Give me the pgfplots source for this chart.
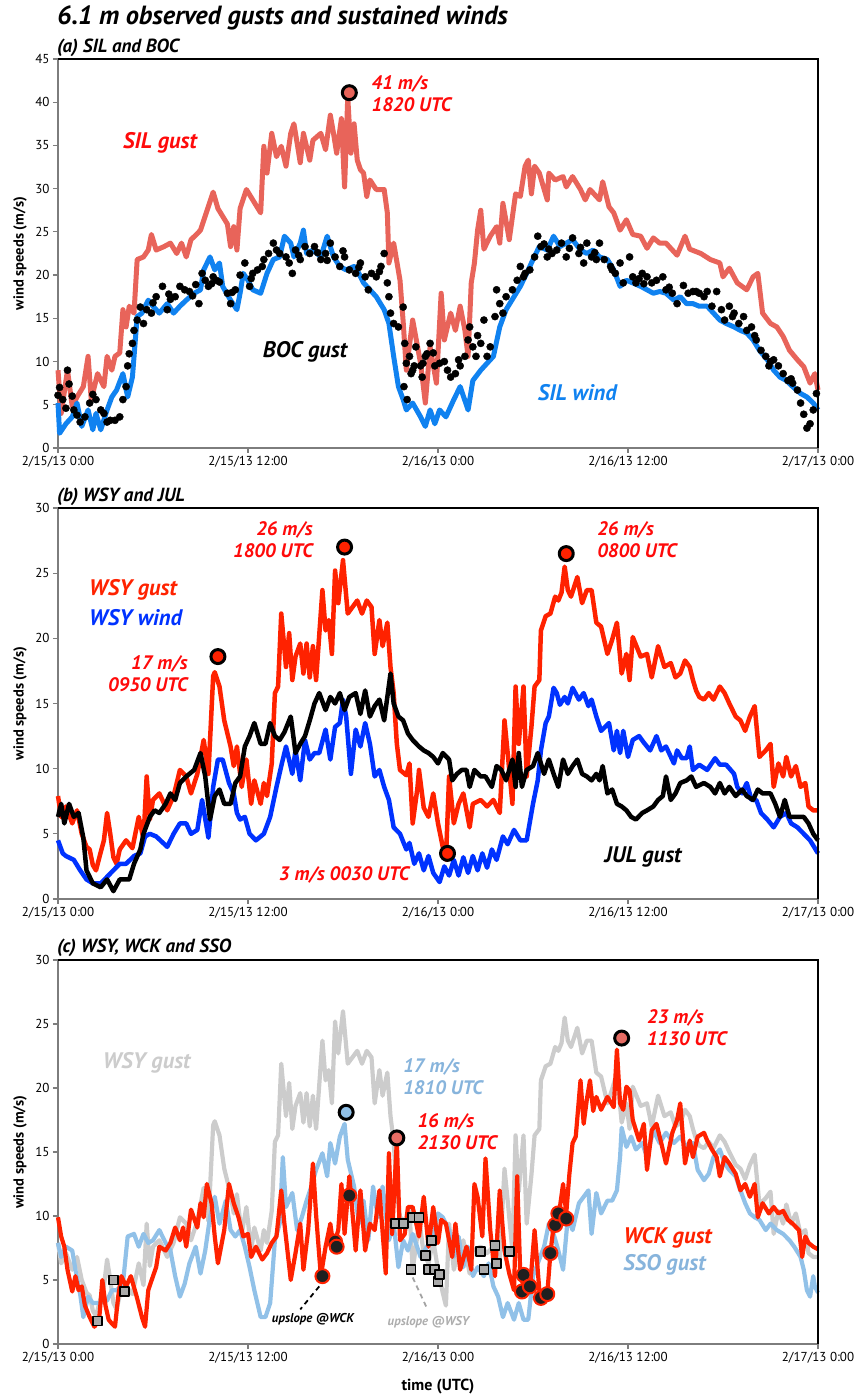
\documentclass[border=0pt]{standalone}
\usepackage{pgfplots}
\pgfplotsset{compat=1.18}
\usepackage{pgfplotstable}
\usepackage{fontspec}
\setmainfont{PT Sans}
\definecolor{silgust}{RGB}{232,100,90}
\definecolor{silwind}{RGB}{16,130,240}
\definecolor{wsyred}{RGB}{255,34,0}
\definecolor{annred}{RGB}{255,10,10}
\definecolor{wsyblue}{RGB}{0,50,255}
\definecolor{wsygray}{RGB}{204,204,204}
\definecolor{ssoblue}{RGB}{145,193,232}
\definecolor{ssotext}{RGB}{135,180,220}
\definecolor{axgray}{RGB}{125,125,125}
\definecolor{salfill}{RGB}{230,108,100}
\definecolor{sqfill}{RGB}{170,170,170}
\newcommand\fsTitle{\fontsize{26.3}{30}\selectfont\bfseries\itshape}
\newcommand\fsPanel{\fontsize{19}{22}\selectfont\bfseries\itshape}
\newcommand\fsSer{\fontsize{22.5}{26}\selectfont\bfseries\itshape}
\newcommand\fsAnn{\fontsize{19.5}{21.5}\selectfont\bfseries\itshape}
\newcommand\fsSmall{\fontsize{12.8}{15}\selectfont\bfseries\itshape}

\pgfplotstableread{
h v
0 7.9
0.2 6.3
0.5 7.1
0.9 5.8
1.2 6.8
1.5 5.0
1.8 4.0
2.0 3.8
2.2 2.6
2.4 2.2
2.7 3.6
2.9 4.5
3.1 6.6
3.3 5.0
3.5 3.2
3.7 2.7
3.9 3.8
4.3 4.5
4.7 3.9
5.1 6.3
5.4 4.6
5.6 9.4
5.8 6.1
6.0 7.6
6.4 8.1
6.9 6.8
7.3 7.9
7.7 9.9
8.1 9.4
8.4 8.1
8.8 9.6
9.2 12.2
9.5 9.6
9.8 17.1
9.9 17.4
10.2 16.3
10.5 13.7
10.9 11.7
11.1 10.2
11.3 11.7
11.6 8.6
11.9 10.7
12.2 7.3
12.4 9.1
12.8 7.3
13.0 8.9
13.2 7.9
13.5 10.4
13.7 15.8
13.9 16.3
14.1 21.9
14.4 17.8
14.6 20.4
14.8 16.8
15.0 18.6
15.3 19.6
15.5 17.3
15.7 19.6
15.9 17.0
16.1 19.4
16.3 16.8
16.7 23.7
16.9 20.6
17.1 21.4
17.3 18.8
17.5 25.2
17.7 22.7
18.0 26.0
18.3 21.9
18.6 22.4
18.9 22.9
19.2 21.9
19.5 22.9
19.8 22.4
20.0 18.8
20.3 21.4
20.5 19.4
20.8 21.2
21.0 17.8
21.2 15.8
21.4 11.9
21.6 9.9
22.0 9.5
22.2 10.4
22.4 5.8
22.7 8.5
22.8 9.9
23.1 7.0
23.4 6.3
23.7 8.1
24.0 5.8
24.3 4.0
24.5 3.0
24.7 9.4
25.0 5.8
25.3 7.3
25.6 8.1
26.0 5.5
26.2 7.3
26.7 7.6
27.1 7.1
27.5 7.6
27.9 6.6
28.2 13.7
28.4 11.2
28.7 7.3
28.9 16.3
29.1 11.9
29.4 16.3
29.6 9.4
29.9 13.2
30.1 16.3
30.4 16.8
30.5 20.6
30.8 21.7
31.1 21.9
31.4 23.2
31.6 22.9
31.8 23.5
32.0 25.5
32.2 23.7
32.4 23.2
32.8 24.7
33.1 22.7
33.4 23.7
33.7 23.7
34.0 21.2
34.3 20.9
34.7 18.8
35.0 19.9
35.3 21.2
35.6 17.3
35.9 18.8
36.1 16.8
36.3 20.1
36.8 18.6
37.2 18.8
37.5 17.0
37.9 19.4
38.3 17.8
38.7 18.1
39.0 17.0
39.3 17.3
39.6 18.3
39.9 17.8
40.1 16.8
40.3 16.0
40.5 15.5
40.8 15.3
41.1 15.8
41.4 15.3
41.8 16.3
42.1 15.8
42.4 15.0
42.8 14.0
43.1 13.7
43.4 12.9
43.7 14.0
44.0 14.8
44.3 10.9
44.7 11.4
45.0 11.9
45.2 8.6
45.5 10.4
45.8 9.4
46.0 10.9
46.3 9.4
46.6 10.2
46.9 8.6
47.2 8.9
47.4 7.1
47.7 6.8
48.0 6.8
}\wsygust

\pgfplotsset{
  panel/.style={
    scale only axis, width=760pt, anchor=south west,
    xmin=0, xmax=48, ymin=0, clip=false,
    axis lines*=left,
    axis line style={-, draw=axgray, line width=2.5pt},
    xtick={0,12,24,36,48},
    xticklabels={2/15/13 0:00, 2/15/13 12:00, 2/16/13 0:00, 2/16/13 12:00, 2/17/13 0:00},
    tick align=outside, major tick length=5pt,
    tick style={draw=axgray, line width=1.2pt},
    ticklabel style={font=\fontsize{13}{15}\selectfont},
    /pgf/number format/assume math mode=true,
    ylabel={wind speeds (m/s)},
    ylabel style={font=\fontsize{14.5}{17}\selectfont\bfseries, at={(axis description cs:-0.05,0.5)}, anchor=center},
    every axis plot/.append style={line join=round},
  }
}

\begin{document}
\begin{tikzpicture}
\path[use as bounding box] (0,0) rectangle (860pt,1397pt);

\node[anchor=west, inner sep=0pt, font=\fsTitle] at (57pt,1379pt) {6.1 m observed gusts and sustained winds};
\node[anchor=west, inner sep=0pt, font=\fsPanel] at (57pt,1349pt) {(a) SIL and BOC};
\node[anchor=west, inner sep=0pt, font=\fsPanel] at (57pt,900pt) {(b) WSY and JUL};
\node[anchor=west, inner sep=0pt, font=\fsPanel] at (57pt,449pt) {(c) WSY, WCK and SSO};

% ---------------- panel (a)
\begin{axis}[panel, name=pa, at={(58pt,949pt)}, height=389pt, ymax=45, ytick={0,5,...,45}]
\addplot[silgust, line width=5pt] coordinates {
(0,9.0)(0.2,4.0)(0.6,9.0)(0.9,4.8)(1.2,5.9)(1.6,7.1)(1.9,10.6)(2.1,5.6)(2.5,8.6)(2.9,7.1)(3.1,10.6)(3.4,9.0)(3.6,10.6)(3.9,11.0)(4.1,16.0)(4.3,14.0)(4.5,16.4)(4.8,15.6)(5.0,21.8)(5.4,22.1)(5.7,22.9)(5.9,24.7)(6.2,22.9)(6.7,23.3)(7.1,23.7)(7.5,22.5)(7.8,23.7)(8.1,22.1)(8.4,24.1)(8.8,24.8)(9.0,25.2)(9.2,26.3)(9.8,29.6)(10.1,27.7)(10.7,25.9)(10.9,23.3)(11.1,25.6)(11.3,22.9)(11.5,27.7)(11.9,29.9)(12.3,28.7)(12.8,27.2)(13.0,34.9)(13.2,31.8)(13.5,36.4)(13.8,33.7)(14.1,34.9)(14.4,32.6)(14.7,36.4)(14.9,37.5)(15.1,35.3)(15.3,33.0)(15.5,36.4)(15.9,33.3)(16.1,35.6)(16.6,36.4)(16.9,34.5)(17.2,38.5)(17.4,36.4)(17.6,34.1)(17.9,38.1)(18.1,30.2)(18.3,40.6)(18.5,34.1)(18.7,37.5)(18.9,33.3)(19.1,32.2)(19.3,31.8)(19.5,29.1)(19.7,31.0)(20.1,29.9)(20.6,29.9)(20.8,27.2)(20.9,21.4)(21.2,23.7)(21.6,19.4)(21.8,14.6)(22.0,9.0)(22.4,14.8)(22.9,9.8)(23.2,5.2)(23.5,11.7)(23.9,7.5)(24.2,17.9)(24.4,12.5)(24.8,15.6)(25.1,13.6)(25.4,16.4)(25.7,13.6)(25.9,10.6)(26.1,19.1)(26.3,21.4)(26.5,25.2)(26.7,27.5)(26.9,23.0)(27.3,24.5)(27.7,25.6)(27.9,23.7)(28.1,28.3)(28.5,24.1)(28.9,29.4)(29.2,29.1)(29.5,32.6)(29.7,33.3)(29.9,29.4)(30.1,32.6)(30.4,31.8)(30.9,28.7)(31.0,31.8)(31.4,31.0)(31.9,31.4)(32.1,30.2)(32.5,31.4)(33.0,29.9)(33.3,28.7)(33.6,29.9)(34.2,28.7)(34.4,30.8)(34.8,27.9)(35.1,27.2)(35.5,25.2)(35.9,26.4)(36.3,24.7)(36.8,24.5)(37.2,23.1)(37.6,24.3)(38.0,23.7)(38.4,23.7)(39.1,22.3)(39.6,24.5)(39.9,23.0)(40.6,22.5)(41.2,21.8)(41.8,21.4)(42.0,19.8)(42.4,20.8)(42.9,19.1)(43.5,18.3)(43.9,19.8)(44.2,20.2)(44.5,15.6)(45.0,14.4)(45.4,14.0)(45.8,12.9)(46.2,11.3)(46.7,10.2)(47.1,9.4)(47.5,7.5)(47.8,8.6)(48.0,6.7)
};
\addplot[silwind, line width=5pt] coordinates {
(0,5.2)(0.1,1.7)(0.5,2.8)(0.9,3.6)(1.2,5.2)(1.5,2.5)(1.9,4.4)(2.2,2.1)(2.4,4.0)(2.7,2.1)(3.1,4.4)(3.4,5.9)(3.7,6.7)(4.1,8.6)(4.4,5.9)(4.7,8.2)(5.0,15.2)(5.3,15.6)(5.7,17.1)(6.0,16.4)(6.4,15.6)(6.9,16.7)(7.3,15.6)(7.7,16.4)(8.1,17.1)(8.6,17.9)(9.0,18.3)(9.2,20.6)(9.6,22.1)(9.9,20.6)(10.2,21.4)(10.4,18.7)(10.9,17.1)(11.3,16.0)(11.5,17.9)(11.7,20.2)(12.0,19.4)(12.3,18.3)(12.8,17.9)(13.2,20.2)(13.6,21.8)(14.0,22.1)(14.3,24.5)(14.7,23.7)(14.9,22.1)(15.3,23.7)(15.5,25.2)(15.7,22.5)(16.1,22.9)(16.6,22.1)(17.0,24.5)(17.4,22.1)(17.8,21.0)(18.2,20.6)(18.7,21.0)(19.0,20.2)(19.3,19.1)(19.7,18.3)(20.1,17.5)(20.6,16.0)(20.9,14.4)(21.2,10.6)(21.5,7.1)(21.8,5.6)(22.0,4.4)(22.4,5.2)(22.9,3.6)(23.2,2.5)(23.5,4.4)(23.8,2.8)(24.1,4.4)(24.5,3.6)(25.0,5.6)(25.4,7.1)(25.9,4.4)(26.2,7.8)(26.7,9.0)(27.1,9.8)(27.5,10.6)(27.9,14.0)(28.3,16.0)(28.8,17.5)(29.2,18.7)(29.6,20.2)(30.0,21.8)(30.4,23.3)(30.9,22.9)(31.3,24.5)(31.7,23.3)(32.1,23.7)(32.5,24.1)(33.0,22.9)(33.4,22.5)(33.8,22.9)(34.2,22.1)(34.7,21.8)(35.1,20.6)(35.5,18.7)(35.9,19.4)(36.3,19.1)(36.8,18.7)(37.2,18.3)(37.6,17.9)(38.0,18.1)(38.4,17.9)(38.9,17.1)(39.3,17.5)(39.7,16.7)(40.1,16.7)(40.5,16.4)(41.0,16.4)(41.4,15.6)(41.8,14.8)(42.2,14.4)(42.7,14.0)(43.1,13.6)(43.5,13.3)(43.9,12.5)(44.3,11.3)(44.8,10.2)(45.2,9.0)(45.6,8.2)(46.0,7.8)(46.4,7.1)(46.9,6.3)(47.3,5.9)(47.7,5.2)(48.0,4.4)
};
\addplot[only marks, mark=*, mark size=3.6pt, black] coordinates {
(0.0,6.1)(0.1,7.0)(0.3,5.6)(0.5,4.6)(0.6,9.0)(0.7,7.4)(0.9,6.0)(1.0,4.4)(1.2,3.8)(1.4,3.0)(1.7,3.6)(2.0,5.2)(2.2,6.2)(2.4,5.6)(2.7,4.4)(2.9,4.0)(3.1,3.0)(3.3,3.2)(3.6,3.2)(3.9,3.6)(4.1,5.6)(4.3,7.1)(4.4,9.5)(4.5,10.9)(4.7,12.1)(4.8,13.6)(5.0,14.8)(5.2,16.3)(5.4,14.4)(5.6,16.0)(5.9,15.6)(6.0,16.8)(6.2,17.5)(6.6,18.7)(6.9,16.0)(7.0,17.8)(7.1,17.2)(7.4,17.5)(7.7,18.7)(8.0,18.3)(8.3,18.1)(8.5,17.6)(8.7,18.9)(8.9,16.7)(9.1,20.2)(9.3,19.4)(9.5,18.7)(9.7,19.0)(9.8,19.8)(10.0,19.4)(10.2,19.2)(10.7,17.9)(10.9,16.7)(11.0,18.0)(11.2,18.3)(11.5,20.0)(11.8,21.4)(12.1,18.7)(12.2,19.6)(12.3,20.2)(12.6,20.6)(12.9,21.0)(13.0,21.8)(13.3,22.5)(13.6,23.7)(13.8,22.9)(14.0,22.5)(14.4,22.1)(14.6,21.4)(14.8,20.2)(15.0,22.9)(15.2,22.3)(15.3,21.8)(15.6,23.3)(15.9,22.5)(16.2,23.3)(16.4,22.6)(16.6,21.8)(16.9,22.5)(17.0,21.7)(17.2,23.7)(17.5,22.1)(17.8,21.0)(18.0,22.8)(18.1,22.1)(18.4,20.6)(18.8,20.2)(19.0,20.9)(19.1,21.4)(19.4,19.8)(19.6,18.3)(19.8,20.2)(20.1,19.8)(20.3,20.4)(20.4,21.0)(20.6,22.5)(20.8,19.1)(20.9,17.5)(21.0,15.6)(21.2,14.4)(21.5,14.0)(21.8,16.3)(21.85,7.1)(21.9,12.1)(22.0,9.8)(22.05,5.6)(22.2,10.6)(22.3,8.6)(22.4,9.0)(22.5,9.5)(22.6,11.7)(22.9,9.5)(23.0,8.2)(23.05,9.8)(23.2,10.6)(23.3,10.9)(23.5,12.1)(23.7,11.0)(23.8,9.5)(24.1,9.8)(24.4,10.0)(24.6,9.0)(24.8,8.2)(25.1,8.6)(25.3,10.2)(25.4,9.5)(25.7,10.6)(25.9,12.5)(26.0,14.0)(26.2,11.7)(26.4,10.6)(26.5,13.0)(26.7,12.1)(26.9,14.8)(27.1,10.6)(27.3,11.7)(27.6,15.2)(27.7,18.3)(27.9,16.7)(28.1,15.6)(28.3,17.5)(28.7,18.3)(29.0,19.4)(29.2,21.0)(29.4,19.8)(29.5,20.2)(29.8,20.6)(30.1,22.1)(30.3,24.5)(30.5,23.3)(30.7,23.6)(30.9,22.1)(31.0,23.0)(31.2,22.5)(31.5,22.9)(31.8,23.7)(32.1,22.1)(32.3,23.1)(32.5,24.3)(32.9,22.5)(33.0,23.2)(33.2,21.4)(33.4,23.7)(33.7,22.1)(33.9,22.6)(34.0,21.8)(34.2,23.7)(34.5,21.8)(34.9,21.0)(35.0,20.6)(35.2,20.2)(35.5,21.4)(35.7,19.1)(36.1,22.1)(36.3,19.8)(36.5,19.1)(36.7,19.6)(36.9,20.2)(37.0,19.0)(37.2,19.8)(37.5,19.1)(37.8,19.4)(38.2,19.8)(38.4,18.3)(38.6,18.6)(38.8,17.9)(39.1,16.7)(39.5,18.8)(39.8,17.9)(40.1,18.1)(40.3,18.1)(40.5,17.9)(40.8,17.5)(41.0,18.1)(41.3,16.4)(41.6,18.1)(41.9,16.0)(42.1,14.8)(42.4,16.4)(42.6,15.2)(42.7,15.6)(43.0,14.4)(43.3,15.2)(43.5,13.6)(43.8,14.0)(44.0,13.0)(44.1,12.5)(44.4,11.3)(44.7,10.6)(44.9,9.5)(45.0,10.0)(45.2,10.2)(45.5,9.5)(45.8,8.6)(46.1,7.8)(46.3,8.0)(46.4,7.5)(46.7,6.7)(46.9,5.2)(47.1,3.9)(47.3,2.3)(47.5,2.8)(47.7,4.4)(47.9,6.3)
};
\addplot[only marks, mark=*, mark size=7pt, mark options={fill=silgust, draw=black, line width=3pt}] coordinates {(18.4,41.1)};
\node[font=\fsSer, text=annred, inner sep=0pt] at (axis cs:6.44,35.3) {SIL gust};
\node[font=\fsSer, text=black, inner sep=0pt] at (axis cs:15.6,11.1) {BOC gust};
\node[font=\fsSer, text=silwind, inner sep=0pt] at (axis cs:32.8,6.4) {SIL wind};
\node[font=\fsAnn, text=annred, inner sep=0pt, anchor=west, align=left] at (axis cs:19.8,41.0) {41 m/s\\1820 UTC};
\end{axis}
\draw[black, line width=2.5pt] (pa.north west) -- (pa.north east) -- (pa.south east);

% ---------------- panel (b)
\begin{axis}[panel, name=pb, at={(58pt,498pt)}, height=391pt, ymax=30, ytick={0,5,...,30}]
\addplot[wsyred, line width=4.5pt] table[x=h, y=v] {\wsygust};
\addplot[wsyblue, line width=4.5pt] coordinates {
(0,4.5)(0.3,3.5)(0.5,3.3)(1.0,3.0)(1.4,2.2)(1.8,1.5)(2.2,1.2)(2.7,1.2)(3.1,1.7)(3.5,2.2)(3.9,2.7)(4.3,2.7)(4.8,3.3)(5.2,3.5)(5.5,4.8)(5.8,5.0)(6.2,4.8)(6.9,4.0)(7.3,5.0)(7.7,5.8)(8.1,5.8)(8.4,5.0)(8.8,5.3)(9.1,7.6)(9.5,4.7)(9.8,8.6)(10.1,10.7)(10.4,10.7)(10.8,8.9)(11.1,8.1)(11.3,6.6)(11.5,6.1)(11.8,6.3)(12.1,5.0)(12.5,4.5)(13.0,5.0)(13.4,6.3)(13.8,8.6)(14.1,10.2)(14.4,11.7)(14.8,9.6)(15.0,11.4)(15.3,9.1)(15.6,12.2)(15.9,10.7)(16.2,11.2)(16.5,11.2)(16.9,13.0)(17.2,10.7)(17.5,13.2)(17.8,13.5)(18.0,15.3)(18.2,14.0)(18.5,9.6)(18.8,13.0)(19.1,11.7)(19.4,13.5)(19.7,11.9)(20.0,9.4)(20.3,9.9)(20.6,8.6)(20.9,7.6)(21.2,5.5)(21.6,5.0)(22.0,3.8)(22.2,4.3)(22.5,2.7)(22.8,3.5)(23.1,2.2)(23.4,3.3)(23.7,2.0)(24.1,1.3)(24.4,2.5)(24.7,1.8)(25.0,3.0)(25.3,1.8)(25.6,3.2)(25.9,2.0)(26.2,3.3)(26.5,2.2)(26.8,3.5)(27.1,2.4)(27.4,3.8)(27.7,3.0)(28.1,4.8)(28.4,4.2)(28.8,5.3)(29.2,4.5)(29.6,4.5)(30.0,7.3)(30.3,9.1)(30.5,11.4)(30.8,13.5)(31.0,14.0)(31.3,16.2)(31.5,15.8)(31.7,14.9)(32.0,15.5)(32.2,15.0)(32.5,16.2)(32.9,15.3)(33.2,15.8)(33.5,14.8)(33.7,15.3)(34.0,14.0)(34.3,12.9)(34.8,13.5)(35.1,11.4)(35.3,12.9)(35.5,11.2)(35.7,12.9)(36.0,10.9)(36.3,12.2)(36.7,12.5)(37.0,12.0)(37.4,11.4)(37.8,12.5)(38.1,11.4)(38.4,11.7)(38.9,10.4)(39.1,11.4)(39.4,10.8)(39.7,10.8)(39.9,11.7)(40.1,9.9)(40.5,10.3)(41.0,9.9)(41.5,10.8)(41.8,10.3)(42.2,10.3)(42.7,9.6)(42.9,8.6)(43.2,8.1)(43.5,8.9)(43.8,7.6)(44.1,7.6)(44.4,6.6)(44.8,6.1)(45.2,5.5)(45.6,6.3)(46.0,6.6)(46.3,5.8)(46.7,5.5)(47.1,5.0)(47.5,4.5)(48.0,3.5)
};
\addplot[black, line width=4.5pt] coordinates {
(0,6.3)(0.2,7.3)(0.4,5.8)(0.7,7.3)(1.0,6.3)(1.3,6.6)(1.6,4.7)(1.8,2.2)(2.2,1.2)(2.7,0.9)(3.1,1.5)(3.5,0.6)(3.9,1.5)(4.5,1.5)(4.8,2.7)(5.2,3.8)(5.4,5.0)(5.8,6.3)(6.1,6.8)(6.4,6.6)(6.8,7.3)(7.1,8.1)(7.4,7.6)(7.7,8.9)(8.1,9.4)(8.6,9.9)(9.0,11.2)(9.3,9.4)(9.6,6.1)(9.9,7.9)(10.2,8.4)(10.5,7.3)(10.9,7.3)(11.2,8.9)(11.5,9.4)(11.8,11.7)(12.1,12.5)(12.4,13.5)(12.8,11.9)(13.1,11.9)(13.4,13.5)(13.7,12.5)(14.0,12.2)(14.3,12.8)(14.7,14.0)(15.0,11.2)(15.3,11.9)(15.6,12.5)(15.9,13.7)(16.2,15.0)(16.5,15.8)(16.9,14.5)(17.2,15.5)(17.5,15.0)(17.8,15.8)(18.1,14.5)(18.4,15.5)(18.8,15.8)(19.1,14.2)(19.4,16.0)(19.7,14.0)(20.0,14.8)(20.3,15.3)(20.6,13.7)(21.0,17.3)(21.2,15.0)(21.5,14.0)(21.8,13.7)(22.1,12.7)(22.4,12.2)(22.8,11.7)(23.1,11.4)(23.4,11.2)(23.7,10.9)(24.0,10.4)(24.3,11.2)(24.7,10.7)(24.9,9.1)(25.2,9.6)(25.5,9.9)(25.8,9.9)(26.0,8.6)(26.3,9.9)(26.7,9.4)(27.0,9.4)(27.4,8.6)(27.7,10.2)(28.0,9.9)(28.3,9.1)(28.7,10.7)(28.9,8.6)(29.1,11.2)(29.3,8.6)(29.6,9.9)(30.0,10.2)(30.3,11.2)(30.7,9.6)(31.0,10.7)(31.3,9.6)(31.6,8.6)(31.9,10.7)(32.2,9.6)(32.5,10.2)(32.8,10.7)(33.1,9.6)(33.4,9.4)(33.7,9.1)(34.0,9.6)(34.2,9.1)(34.4,10.2)(34.7,8.1)(35.0,8.4)(35.3,7.3)(35.6,7.1)(35.9,6.8)(36.2,6.3)(36.5,6.1)(36.9,6.6)(37.2,6.8)(37.6,7.1)(37.9,7.6)(38.2,7.9)(38.4,9.4)(38.7,7.6)(39.0,8.1)(39.3,8.9)(39.7,9.1)(40.0,9.4)(40.3,8.6)(40.8,8.9)(41.2,8.6)(41.5,8.1)(41.8,8.9)(42.1,8.1)(42.4,8.6)(42.8,7.9)(43.2,8.4)(43.5,7.9)(43.9,7.6)(44.2,8.4)(44.5,8.1)(45.0,8.1)(45.3,7.3)(45.6,6.3)(45.9,7.6)(46.2,6.3)(46.7,6.3)(47.1,6.3)(47.4,5.8)(47.7,5.0)(48.0,4.5)
};
\addplot[only marks, mark=*, mark size=7pt, mark options={fill=wsyred, draw=black, line width=3pt}] coordinates {(10.1,18.6)(18.1,27.0)(32.1,26.5)(24.6,3.5)};
\node[font=\fsSer, text=wsyred, inner sep=0pt, anchor=west] at (axis cs:1.96,23.7) {WSY gust};
\node[font=\fsSer, text=wsyblue, inner sep=0pt, anchor=west] at (axis cs:1.96,21.6) {WSY wind};
\node[font=\fsSer, text=black, inner sep=0pt] at (axis cs:36.95,3.2) {JUL gust};
\node[font=\fsAnn, text=annred, inner sep=0pt, anchor=east, align=right] at (axis cs:8.2,17.3) {17 m/s\\0950 UTC};
\node[font=\fsAnn, text=annred, inner sep=0pt, anchor=east, align=right] at (axis cs:16.1,27.55) {26 m/s\\1800 UTC};
\node[font=\fsAnn, text=annred, inner sep=0pt, anchor=west, align=left] at (axis cs:34.05,27.55) {26 m/s\\0800 UTC};
\node[font=\fsAnn, text=annred, inner sep=0pt, anchor=east] at (axis cs:22.2,1.84) {3 m/s 0030 UTC};
\end{axis}
\draw[black, line width=2.5pt] (pb.north west) -- (pb.north east) -- (pb.south east);

% ---------------- panel (c)
\begin{axis}[panel, name=pc, at={(58pt,53pt)}, height=384pt, ymax=30, ytick={0,5,...,30},
  xlabel={time (UTC)}, xlabel style={font=\fontsize{16}{19}\selectfont\bfseries, at={(axis description cs:0.5,-0.112)}, anchor=center}]
\addplot[wsygray, line width=4.2pt] table[x=h, y=v] {\wsygust};
\addplot[ssoblue, line width=4.2pt] coordinates {
(0,7.9)(0.2,6.8)(0.5,7.6)(0.9,7.3)(1.1,5.8)(1.4,3.9)(1.6,2.1)(1.9,3.7)(2.2,3.2)(2.6,3.2)(3.1,3.4)(3.4,4.2)(3.7,4.2)(4.1,4.7)(4.4,8.4)(4.8,8.6)(5.1,7.6)(5.4,8.6)(5.7,7.9)(6.0,8.1)(6.4,8.9)(6.8,7.9)(7.1,7.3)(7.4,5.3)(7.7,3.7)(8.0,4.7)(8.3,6.3)(8.7,7.6)(9.0,5.5)(9.3,7.3)(9.6,9.9)(9.9,11.5)(10.2,9.4)(10.6,11.2)(10.9,8.9)(11.2,8.4)(11.5,8.9)(11.8,7.6)(12.1,6.0)(12.4,4.2)(12.8,2.1)(13.1,2.1)(13.4,3.2)(13.7,8.1)(14.0,9.4)(14.2,14.6)(14.4,10.7)(14.8,11.8)(15.1,8.9)(15.4,9.9)(15.7,11.2)(16.0,12.3)(16.3,13.6)(16.7,14.9)(17.0,13.1)(17.2,15.7)(17.5,14.1)(17.8,16.2)(18.1,17.2)(18.3,14.4)(18.7,12.3)(19.0,9.4)(19.3,11.2)(19.6,8.1)(19.9,12.3)(20.2,9.9)(20.5,12.3)(20.9,8.1)(21.2,9.4)(21.5,6.0)(21.8,8.1)(22.1,7.3)(22.4,8.6)(22.9,6.8)(23.3,7.6)(23.7,8.4)(24.0,10.2)(24.3,9.9)(24.7,8.9)(25.0,6.8)(25.3,8.4)(25.6,6.0)(25.9,7.6)(26.2,5.3)(26.5,6.0)(26.9,5.3)(27.2,6.3)(27.5,4.5)(27.8,3.7)(28.1,2.1)(28.4,3.2)(28.8,1.9)(29.1,3.2)(29.4,1.9)(29.7,1.9)(30.0,5.3)(30.3,6.3)(30.7,7.6)(31.0,9.4)(31.3,8.6)(31.6,7.3)(31.9,5.8)(32.2,9.9)(32.5,8.9)(32.9,11.0)(33.2,11.5)(33.5,12.0)(33.7,8.6)(34.0,11.8)(34.3,10.2)(34.7,11.2)(35.0,11.2)(35.3,12.0)(35.5,14.6)(35.6,16.9)(35.9,15.4)(36.2,16.2)(36.5,15.2)(36.9,15.7)(37.2,14.6)(37.6,16.7)(38.0,15.7)(38.4,16.5)(38.9,15.7)(39.3,16.2)(39.7,15.4)(40.1,15.7)(40.4,13.6)(40.8,12.8)(41.1,13.3)(41.4,14.6)(41.8,15.2)(42.1,14.1)(42.4,13.6)(42.8,13.1)(43.1,12.0)(43.4,11.0)(43.7,10.2)(44.0,9.9)(44.3,9.7)(44.7,8.9)(45.0,9.4)(45.4,8.9)(45.8,8.6)(46.2,8.1)(46.5,7.6)(46.9,6.8)(47.1,5.8)(47.3,4.2)(47.5,3.7)(47.7,5.3)(47.8,4.5)(48.0,4.0)
};
\addplot[wsyred, line width=4.2pt] coordinates {
(0,9.9)(0.2,8.4)(0.4,7.6)(0.6,5.8)(0.9,4.1)(1.1,5.3)(1.3,4.2)(1.5,4.5)(1.7,3.0)(2.0,2.1)(2.3,1.35)(2.6,1.9)(2.8,5.0)(3.0,3.0)(3.2,1.9)(3.4,1.6)(3.6,1.35)(3.8,3.7)(4.0,5.3)(4.3,4.5)(4.6,5.3)(4.97,3.7)(5.3,2.1)(5.5,1.35)(5.7,4.2)(6.0,5.3)(6.2,6.0)(6.4,7.6)(6.8,7.3)(7.1,7.9)(7.4,9.1)(7.7,8.1)(7.9,9.1)(8.1,7.6)(8.4,10.5)(8.8,9.1)(9.0,11.0)(9.2,9.9)(9.4,12.5)(9.7,11.0)(9.9,8.4)(10.1,6.3)(10.5,8.9)(10.8,12.5)(11.1,11.0)(11.4,9.9)(11.7,8.4)(12.0,8.6)(12.2,6.8)(12.5,7.6)(12.9,6.6)(13.2,7.1)(13.5,7.9)(13.8,8.4)(14.1,12.0)(14.3,9.4)(14.7,5.0)(15.0,7.1)(15.3,9.4)(15.5,5.8)(15.8,8.9)(16.1,14.1)(16.3,10.1)(16.6,5.3)(16.9,7.6)(17.2,9.4)(17.4,7.6)(17.7,8.9)(17.9,12.5)(18.1,8.6)(18.4,13.1)(18.8,7.3)(19.1,12.0)(19.4,7.3)(19.7,9.4)(20.0,8.9)(20.3,12.0)(20.7,5.5)(20.9,14.9)(21.1,8.6)(21.4,15.9)(21.6,8.1)(21.9,8.6)(22.1,10.7)(22.4,10.7)(22.8,8.4)(23.1,11.5)(23.4,7.6)(23.7,10.7)(24.0,7.9)(24.2,9.7)(24.5,9.4)(24.9,6.8)(25.1,9.4)(25.4,5.8)(25.8,7.6)(26.1,5.8)(26.3,12.5)(26.5,11.5)(26.8,8.4)(27.0,14.5)(27.3,8.9)(27.6,5.3)(27.9,12.0)(28.2,7.3)(28.5,5.5)(28.8,4.2)(29.0,13.1)(29.2,5.3)(29.5,4.2)(29.8,4.2)(30.1,8.9)(30.4,4.2)(30.9,3.9)(31.1,7.1)(31.3,9.2)(31.5,10.2)(31.7,10.7)(31.9,12.5)(32.1,10.2)(32.3,13.3)(32.5,15.7)(32.7,16.2)(33.0,20.6)(33.2,17.2)(33.4,19.1)(33.6,20.6)(33.8,18.2)(34.0,19.3)(34.3,18.3)(34.7,19.3)(35.1,18.5)(35.3,23.0)(35.5,18.8)(35.7,18.3)(35.9,20.1)(36.1,19.8)(36.3,17.5)(36.7,15.9)(37.0,17.2)(37.2,13.6)(37.5,16.7)(37.8,17.2)(38.1,15.7)(38.4,14.1)(38.8,16.5)(39.1,17.5)(39.3,18.8)(39.6,14.1)(39.9,15.9)(40.1,14.6)(40.4,16.2)(40.8,16.5)(41.0,15.9)(41.3,15.2)(41.6,14.6)(41.8,13.1)(42.1,14.6)(42.4,14.1)(42.8,13.3)(43.1,12.0)(43.4,12.5)(43.7,11.5)(44.0,12.5)(44.2,9.9)(44.5,11.0)(44.9,10.2)(45.2,10.7)(45.5,10.2)(45.8,10.4)(46.1,9.7)(46.4,9.4)(46.8,8.9)(47.0,6.8)(47.2,8.4)(47.4,7.9)(47.7,7.6)(48.0,7.4)
};
\draw[dashed, dash pattern=on 5pt off 4pt, line width=1.8pt, black] (axis cs:16.5,4.5) -- (axis cs:15.3,2.7);
\draw[dashed, dash pattern=on 5pt off 4pt, line width=1.8pt, wsygray!80!black] (axis cs:22.4,5.2) -- (axis cs:23.3,2.8);
\addplot[only marks, mark=square*, mark size=4.5pt, mark options={fill=sqfill, draw=black, line width=1.8pt}] coordinates {
(2.5,1.8)(3.5,5.0)(4.2,4.1)(21.3,9.4)(21.8,9.4)(22.3,5.8)(22.4,9.9)(22.8,9.9)(23.2,6.9)(23.6,8.1)(23.4,5.8)(23.8,5.8)(24.0,4.9)(24.1,5.4)(26.7,7.2)(26.9,5.8)(27.6,7.7)(27.7,6.3)(28.5,7.2)
};
\addplot[only marks, mark=*, mark size=7pt, mark options={fill=black!88, draw=wsyred, line width=2pt}] coordinates {
(16.7,5.3)(17.5,8.0)(17.6,7.6)(18.4,11.6)(29.3,4.1)(29.4,5.4)(29.8,4.5)(30.5,3.6)(30.9,3.9)(31.1,7.1)(31.4,9.3)(31.6,10.2)(32.1,9.8)
};
\addplot[only marks, mark=*, mark size=7pt, mark options={fill=ssoblue, draw=black, line width=3pt}] coordinates {(18.2,18.1)};
\addplot[only marks, mark=*, mark size=7pt, mark options={fill=salfill, draw=black, line width=3pt}] coordinates {(21.4,16.1)(35.6,23.9)};
\node[font=\fsSer, text=wsygray, inner sep=0pt] at (axis cs:5.6,21.95) {WSY gust};
\node[font=\fsSer, text=wsyred, inner sep=0pt] at (axis cs:38.5,8.3) {WCK gust};
\node[font=\fsSer, text=ssotext, inner sep=0pt] at (axis cs:38.3,6.2) {SSO gust};
\node[font=\fsAnn, text=ssotext, inner sep=0pt, anchor=west, align=left] at (axis cs:21.8,20.9) {17 m/s\\1810 UTC};
\node[font=\fsAnn, text=annred, inner sep=0pt, anchor=west, align=left] at (axis cs:22.7,16.6) {16 m/s\\2130 UTC};
\node[font=\fsAnn, text=annred, inner sep=0pt, anchor=west, align=left] at (axis cs:37.2,24.7) {23 m/s\\1130 UTC};
\node[font=\fsSmall, text=black, inner sep=0pt] at (axis cs:16.1,1.95) {upslope @WCK};
\node[font=\fsSmall, text=wsygray!85!black, inner sep=0pt] at (axis cs:23.4,1.7) {upslope @WSY};
\end{axis}
\draw[black, line width=2.5pt] (pc.north west) -- (pc.north east) -- (pc.south east);
\end{tikzpicture}
\end{document}
